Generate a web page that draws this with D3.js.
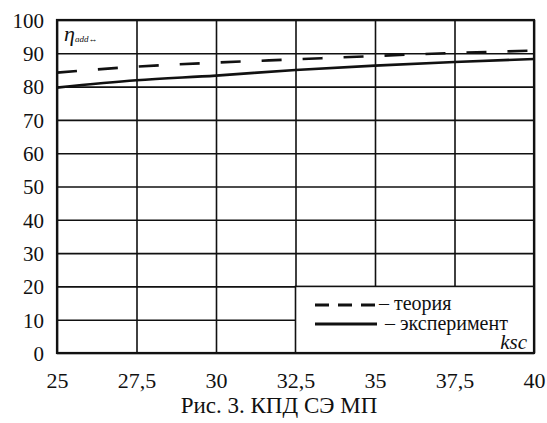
<!DOCTYPE html>
<html>
<head>
<meta charset="utf-8">
<script src="https://cdn.jsdelivr.net/npm/d3@7"></script>
<style>
  body { margin: 0; background: #fff; }
</style>
</head>
<body>
<div id="chart"></div>
<script>
// ksc values on the x axis
const ksc = [25, 27.5, 30, 32.5, 35, 37.5, 40];
// efficiency curves
const theory = [84.2, 86.0, 87.2, 88.2, 89.2, 90.1, 90.8];
const experiment = [79.7, 81.9, 83.3, 85.0, 86.3, 87.4, 88.3];
const yTicks = [0, 10, 20, 30, 40, 50, 60, 70, 80, 90, 100];
const legendLabels = ["– теория", "– эксперимент"];

const width = 547, height = 423;
const margin = { top: 20, right: 13, bottom: 70, left: 57 };
const serif = "'Liberation Serif', 'Times New Roman', 'DejaVu Serif'";

const svg = d3.select("#chart").append("svg")
    .attr("width", width)
    .attr("height", height);

const x = d3.scaleLinear()
    .domain([25, 40])
    .range([margin.left, width - margin.right]);

const y = d3.scaleLinear()
    .domain([0, 100])
    .range([height - margin.bottom, margin.top]);

const fmt = d => String(d).replace(".", ",");

// grid
svg.append("g")
    .attr("transform", `translate(${margin.left},0)`)
    .call(d3.axisLeft(y)
        .tickValues(yTicks)
        .tickSize(-(x(40) - x(25)))
        .tickPadding(13)
        .tickFormat(d3.format("d")))
    .call(g => g.select(".domain").remove())
    .call(g => g.selectAll("line").attr("stroke", "#111").attr("stroke-width", 1.6))
    .call(g => g.selectAll("text").attr("font-size", 21).attr("dy", "0.35em"));

svg.append("g")
    .attr("transform", `translate(0,${y(0)})`)
    .call(d3.axisBottom(x)
        .tickValues(ksc)
        .tickSize(-(y(0) - y(100)))
        .tickPadding(19)
        .tickFormat(fmt))
    .call(g => g.select(".domain").remove())
    .call(g => g.selectAll("line").attr("stroke", "#111").attr("stroke-width", 1.6))
    .call(g => g.selectAll("text").attr("font-size", 22));

// curves
const rows = ksc.map((k, i) => ({ k, t: theory[i], e: experiment[i] }));

svg.append("path")
    .datum(rows)
    .attr("fill", "none")
    .attr("stroke", "#111")
    .attr("stroke-width", 2.6)
    .attr("stroke-dasharray", "20,21")
    .attr("d", d3.line().curve(d3.curveMonotoneX).x(d => x(d.k)).y(d => y(d.t)));

svg.append("path")
    .datum(rows)
    .attr("fill", "none")
    .attr("stroke", "#111")
    .attr("stroke-width", 2.6)
    .attr("d", d3.line().curve(d3.curveMonotoneX).x(d => x(d.k)).y(d => y(d.e)));

// legend box over the lower right cells
const lg = svg.append("g");
lg.append("rect")
    .attr("x", x(32.5))
    .attr("y", y(20))
    .attr("width", x(40) - x(32.5))
    .attr("height", y(0) - y(20))
    .attr("fill", "#fff")
    .attr("stroke", "#111")
    .attr("stroke-width", 1.6);

lg.append("line")
    .attr("x1", 315).attr("x2", 377)
    .attr("y1", 305).attr("y2", 305)
    .attr("stroke", "#111").attr("stroke-width", 3)
    .attr("stroke-dasharray", "14,9");
lg.append("line")
    .attr("x1", 315).attr("x2", 377)
    .attr("y1", 324).attr("y2", 324)
    .attr("stroke", "#111").attr("stroke-width", 3);

lg.append("text").attr("x", 379).attr("y", 310).attr("font-size", 20).text(legendLabels[0]);
lg.append("text").attr("x", 385).attr("y", 330).attr("font-size", 20).text(legendLabels[1]);
lg.append("text")
    .attr("x", 527).attr("y", 349)
    .attr("text-anchor", "end")
    .attr("font-size", 21)
    .attr("font-style", "italic")
    .text("ksc");

// frame
svg.append("rect")
    .attr("x", margin.left)
    .attr("y", margin.top)
    .attr("width", x(40) - x(25))
    .attr("height", y(0) - y(100))
    .attr("fill", "none")
    .attr("stroke", "#111")
    .attr("stroke-width", 2.2);

// y label
const yl = svg.append("text")
    .attr("x", 64).attr("y", 41)
    .attr("font-style", "italic");
yl.append("tspan").attr("font-size", 22).text("η");
yl.append("tspan").attr("font-size", 9).attr("dy", 1).text("add↔");

// caption
svg.append("text")
    .attr("x", 279).attr("y", 413)
    .attr("text-anchor", "middle")
    .attr("font-size", 23)
    .text("Рис. 3. КПД СЭ МП");

// one serif face for every label
svg.selectAll("g").attr("font-family", null);
svg.selectAll("text")
    .style("font-family", serif)
    .attr("fill", "#111");
</script>
</body>
</html>
